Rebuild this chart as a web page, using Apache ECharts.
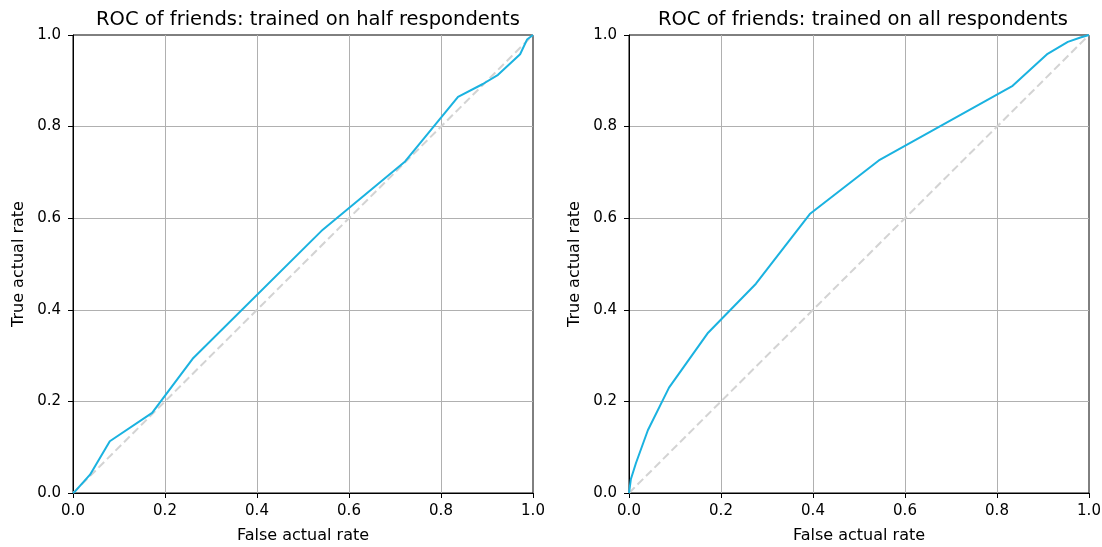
<!DOCTYPE html>
<html>
<head>
<meta charset="utf-8">
<script src="https://cdn.jsdelivr.net/npm/echarts@6/dist/echarts.min.js"></script>
<style>
  html, body { margin: 0; padding: 0; background: #fff; }
  #chart { width: 1102px; height: 547px; }
</style>
</head>
<body>
<div id="chart"></div>
<script>
// left panel: trained on half respondents
var halfFpr = [0, 0.005, 0.037, 0.08, 0.172, 0.26, 0.543, 0.722, 0.837, 0.891, 0.924, 0.972, 0.987, 1];
var halfTpr = [0, 0.004, 0.04, 0.113, 0.175, 0.293, 0.575, 0.724, 0.865, 0.893, 0.913, 0.958, 0.99, 1];
// right panel: trained on all respondents
var allFpr = [0, 0.004, 0.015, 0.041, 0.087, 0.172, 0.276, 0.393, 0.543, 0.834, 0.91, 0.954, 0.983, 1];
var allTpr = [0, 0.03, 0.065, 0.137, 0.23, 0.35, 0.457, 0.609, 0.726, 0.889, 0.959, 0.985, 0.995, 1];
var diagX = [0, 1];
var diagY = [0, 1];
var titles = ['ROC of friends: trained on half respondents', 'ROC of friends: trained on all respondents'];

var font = 'DejaVu Sans';

function pairs(xs, ys) {
	var out = [];
	for (var i = 0; i < xs.length; i++) {
		out.push([xs[i], ys[i]]);
	}
	return out;
}

function axis(idx, name, isX) {
	return {
		type: 'value',
		gridIndex: idx,
		min: 0,
		max: 1,
		interval: 0.2,
		name: name,
		nameLocation: 'middle',
		nameGap: isX ? 35 : 46,
		nameTextStyle: { color: '#000', fontSize: 16, fontFamily: font },
		axisLine: { show: true, onZero: false, lineStyle: { color: '#000', width: 1 } },
		axisTick: { show: true, length: 5, lineStyle: { color: '#000' } },
		axisLabel: {
			color: '#000', fontSize: 15, fontFamily: font, margin: isX ? 11 : 12,
			formatter: function (v) { return v.toFixed(1); }
		},
		splitLine: { show: true, showMinLine: false, showMaxLine: false,
			lineStyle: { color: '#b0b0b0', width: 1 } }
	};
}

var myChart = echarts.init(document.getElementById('chart'));
var option = {
	backgroundColor: '#fff',
	animation: false,
	title: [
		{ text: titles[0], left: 303, top: 5, textAlign: 'center',
		  textStyle: { color: '#000', fontSize: 19.5, fontWeight: 'normal', fontFamily: font } },
		{ text: titles[1], left: 858, top: 5, textAlign: 'center',
		  textStyle: { color: '#000', fontSize: 19.5, fontWeight: 'normal', fontFamily: font } }
	],
	grid: [
		{ left: 73, top: 35, width: 460, height: 458, show: true, borderColor: '#000', borderWidth: 1,
		  containLabel: false, outerBoundsMode: 'none' },
		{ left: 629, top: 35, width: 460, height: 458, show: true, borderColor: '#000', borderWidth: 1,
		  containLabel: false, outerBoundsMode: 'none' }
	],
	xAxis: [axis(0, 'False actual rate', true), axis(1, 'False actual rate', true)],
	yAxis: [axis(0, 'True actual rate', false), axis(1, 'True actual rate', false)],
	series: [
		{ type: 'line', xAxisIndex: 0, yAxisIndex: 0, data: pairs(diagX, diagY), showSymbol: false,
		  lineStyle: { color: '#d3d3d3', width: 2, type: [8, 4] } },
		{ type: 'line', xAxisIndex: 0, yAxisIndex: 0, data: pairs(halfFpr, halfTpr), showSymbol: false,
		  lineStyle: { color: '#1ab2e0', width: 2 } },
		{ type: 'line', xAxisIndex: 1, yAxisIndex: 1, data: pairs(diagX, diagY), showSymbol: false,
		  lineStyle: { color: '#d3d3d3', width: 2, type: [8, 4] } },
		{ type: 'line', xAxisIndex: 1, yAxisIndex: 1, data: pairs(allFpr, allTpr), showSymbol: false,
		  lineStyle: { color: '#1ab2e0', width: 2 } }
	]
};
myChart.setOption(option);
</script>
</body>
</html>
